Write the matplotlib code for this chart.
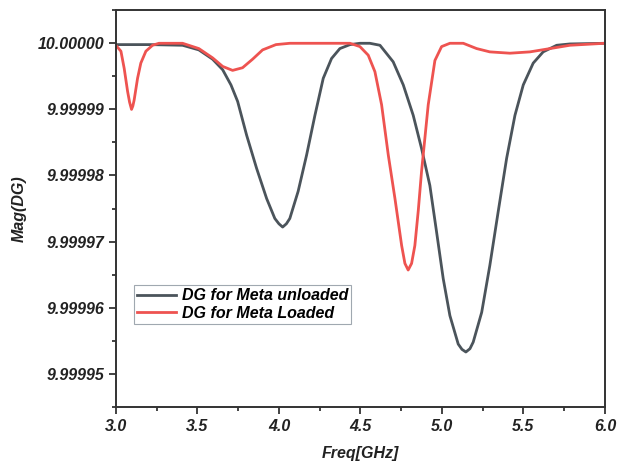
import numpy as np
import matplotlib
matplotlib.use("Agg")
import matplotlib.pyplot as plt
from matplotlib.ticker import MultipleLocator, FormatStrFormatter

plt.rcParams["font.family"] = "Liberation Sans"
plt.rcParams["font.weight"] = "bold"
plt.rcParams["font.style"] = "italic"
plt.rcParams["axes.labelweight"] = "bold"

# DG for Meta unloaded
freq_unloaded = [3.000, 3.209, 3.409, 3.509, 3.593, 3.655, 3.706, 3.747, 3.802,
                 3.863, 3.925, 3.975, 4.000, 4.023, 4.046, 4.067, 4.118, 4.170,
                 4.221, 4.272, 4.323, 4.374, 4.436, 4.497, 4.558, 4.620, 4.701,
                 4.763, 4.824, 4.875, 4.926, 4.967, 5.008, 5.049, 5.100, 5.123,
                 5.147, 5.172, 5.192, 5.244, 5.294, 5.345, 5.397, 5.448, 5.499,
                 5.560, 5.621, 5.704, 5.785, 6.000]
mag_unloaded = [9.9999998, 9.9999998, 9.9999997, 9.9999990, 9.9999976, 9.9999960,
                9.9999937, 9.9999912, 9.9999861, 9.9999811, 9.9999765, 9.9999735,
                9.9999727, 9.9999722, 9.9999727, 9.9999735, 9.9999776, 9.9999831,
                9.9999891, 9.9999947, 9.9999977, 9.9999992, 9.9999998, 10.0000000,
                10.0000000, 9.9999997, 9.9999972, 9.9999937, 9.9999891, 9.9999841,
                9.9999785, 9.9999715, 9.9999644, 9.9999588, 9.9999545, 9.9999537,
                9.9999533, 9.9999538, 9.9999548, 9.9999593, 9.9999664, 9.9999745,
                9.9999826, 9.9999891, 9.9999937, 9.9999970, 9.9999987, 9.9999997,
                9.9999999, 10.0000000]

# DG for Meta Loaded
freq_loaded = [3.000, 3.031, 3.051, 3.072, 3.084, 3.096, 3.104, 3.112, 3.133,
               3.153, 3.184, 3.225, 3.264, 3.409, 3.509, 3.593, 3.655, 3.716,
               3.777, 3.839, 3.900, 3.982, 4.067, 4.436, 4.497, 4.548, 4.589,
               4.630, 4.671, 4.712, 4.753, 4.773, 4.793, 4.814, 4.834, 4.855,
               4.875, 4.916, 4.957, 4.998, 5.049, 5.131, 5.213, 5.294, 5.417,
               5.540, 5.663, 5.785, 6.000]
mag_loaded = [9.9999997, 9.9999988, 9.9999962, 9.9999927, 9.9999911, 9.9999900,
              9.9999905, 9.9999914, 9.9999947, 9.9999970, 9.9999988, 9.9999997,
              10.0000000, 10.0000000, 9.9999992, 9.9999978, 9.9999965, 9.9999959,
              9.9999963, 9.9999976, 9.9999990, 9.9999998, 10.0000000, 10.0000000,
              9.9999995, 9.9999982, 9.9999957, 9.9999907, 9.9999831, 9.9999765,
              9.9999694, 9.9999667, 9.9999657, 9.9999667, 9.9999694, 9.9999747,
              9.9999806, 9.9999907, 9.9999974, 9.9999995, 10.0000000, 10.0000000,
              9.9999992, 9.9999987, 9.9999985, 9.9999987, 9.9999992, 9.9999997,
              10.0000000]

labels = ["DG for Meta unloaded", "DG for Meta Loaded"]
colours = ["#4b545b", "#ee5350"]

fig = plt.figure(figsize=(6.23, 4.65), dpi=100)
ax = fig.add_axes([0.186, 0.125, 0.785, 0.853])

ax.plot(freq_unloaded, mag_unloaded, color=colours[0], linewidth=2.0,
        label=labels[0], solid_joinstyle="round")
ax.plot(freq_loaded, mag_loaded, color=colours[1], linewidth=2.0,
        label=labels[1], solid_joinstyle="round")

ax.set_xlim(3.0, 6.0)
ax.set_ylim(9.999945, 10.000005)
ax.xaxis.set_major_locator(MultipleLocator(0.5))
ax.xaxis.set_minor_locator(MultipleLocator(0.25))
ax.yaxis.set_major_locator(MultipleLocator(1e-5))
ax.yaxis.set_minor_locator(MultipleLocator(5e-6))
ax.xaxis.set_major_formatter(FormatStrFormatter("%.1f"))
ax.yaxis.set_major_formatter(FormatStrFormatter("%.5f"))
ax.tick_params(which="major", direction="out", length=5, width=1.2,
               labelsize=11.5, colors="#222222")
ax.tick_params(which="minor", direction="out", length=3, width=1.2,
               colors="#222222")
for sp in ax.spines.values():
    sp.set_linewidth(1.4)
    sp.set_color("#333333")

ax.set_xlabel("Freq[GHz]", fontsize=11.5, fontweight="bold", labelpad=9,
              color="#222222")
ax.set_ylabel("Mag(DG)", fontsize=11.5, fontweight="bold", labelpad=8,
              color="#222222")

leg = ax.legend(loc="lower left", bbox_to_anchor=(0.037, 0.209),
                borderaxespad=0, fontsize=11.5, handlelength=2.4,
                handletextpad=0.4, borderpad=0.2, labelspacing=0.15,
                fancybox=False, framealpha=1)
leg.get_frame().set_edgecolor("#a0a8b0")
leg.get_frame().set_linewidth(0.8)

plt.savefig("out.png", dpi=100)
